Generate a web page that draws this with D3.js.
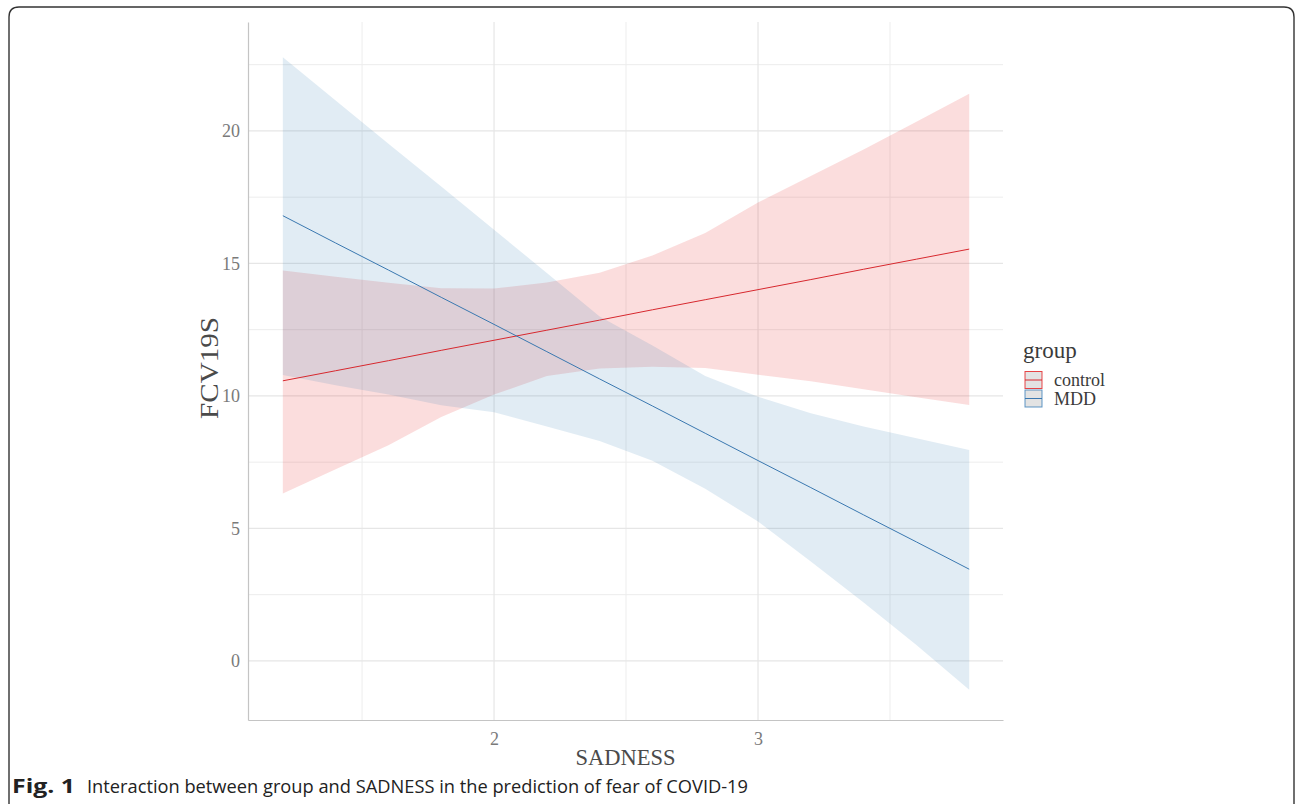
<!DOCTYPE html>
<html>
<head>
<meta charset="utf-8">
<script src="https://cdn.jsdelivr.net/npm/d3@7"></script>
<style>
  html, body { margin: 0; padding: 0; background: #fff; }
  svg { display: block; }
</style>
</head>
<body>
<svg id="chart" width="1295" height="804"></svg>
<script>
// ---- data ----
const sadness = [1.2, 1.4, 1.6, 1.8, 2.0, 2.2, 2.4, 2.6, 2.8, 3.0, 3.2, 3.4, 3.6, 3.8];

const controlFit   = [10.57, 10.95, 11.33, 11.72, 12.10, 12.48, 12.86, 13.25, 13.63, 14.01, 14.39, 14.78, 15.16, 15.54];
const controlUpper = [14.73, 14.50, 14.27, 14.06, 14.05, 14.28, 14.65, 15.30, 16.15, 17.30, 18.30, 19.30, 20.35, 21.40];
const controlLower = [6.32, 7.23, 8.14, 9.20, 10.05, 10.75, 11.03, 11.10, 11.05, 10.80, 10.55, 10.25, 9.95, 9.66];

const mddFit   = [16.80, 15.77, 14.75, 13.72, 12.70, 11.67, 10.64, 9.62, 8.59, 7.56, 6.54, 5.51, 4.49, 3.46];
const mddUpper = [22.78, 21.15, 19.52, 17.90, 16.27, 14.64, 13.00, 11.90, 10.75, 9.97, 9.35, 8.85, 8.40, 7.96];
const mddLower = [10.79, 10.40, 10.05, 9.65, 9.38, 8.85, 8.30, 7.55, 6.50, 5.26, 3.75, 2.20, 0.60, -1.09];

const groups = ["control", "MDD"];
const xTicks = [2, 3];
const xMinor = [1.5, 2.5, 3.5];
const yTicks = [0, 5, 10, 15, 20];
const yMinor = [2.5, 7.5, 12.5, 17.5, 22.5];

const xTitle = "SADNESS";
const yTitle = "FCV19S";
const legendTitle = "group";
const captionBold = "Fig. 1";
const captionText = "Interaction between group and SADNESS in the prediction of fear of COVID-19";

// ---- layout ----
const svg = d3.select("#chart");
const panel = { left: 248, right: 1003, top: 22, bottom: 720 };

const x = d3.scaleLinear().domain([1.068, 3.928]).range([panel.left, panel.right]);
const y = d3.scaleLinear().domain([-2.23, 24.11]).range([panel.bottom, panel.top]);

const colors = { control: "#E41A1C", MDD: "#377EB8" };
const lineColors = { control: "#D7282E", MDD: "#3A78B0" };
const series = [
  { name: "control", fit: controlFit, lo: controlLower, hi: controlUpper },
  { name: "MDD", fit: mddFit, lo: mddLower, hi: mddUpper }
];

const serif = "'Liberation Serif', 'DejaVu Serif', serif";
const capFont = "'Liberation Sans Narrow', 'Open Sans', 'Noto Sans', sans-serif";

// figure border (rounded, open at bottom)
svg.append("path")
  .attr("d", "M9,810 L9,17 Q9,7 19,7 L1284,7 Q1294,7 1294,17 L1294,810")
  .attr("fill", "none").attr("stroke", "#333").attr("stroke-width", 1.4);

// grid
const grid = svg.append("g");
grid.selectAll(".vmin").data(xMinor).join("line")
  .attr("x1", d => x(d)).attr("x2", d => x(d))
  .attr("y1", panel.top).attr("y2", panel.bottom)
  .attr("stroke", "#ededed").attr("stroke-width", 1);
grid.selectAll(".hmin").data(yMinor).join("line")
  .attr("y1", d => y(d)).attr("y2", d => y(d))
  .attr("x1", panel.left).attr("x2", panel.right)
  .attr("stroke", "#ededed").attr("stroke-width", 1);
grid.selectAll(".vmaj").data(xTicks).join("line")
  .attr("x1", d => x(d)).attr("x2", d => x(d))
  .attr("y1", panel.top).attr("y2", panel.bottom)
  .attr("stroke", "#e6e6e6").attr("stroke-width", 1.2);
grid.selectAll(".hmaj").data(yTicks).join("line")
  .attr("y1", d => y(d)).attr("y2", d => y(d))
  .attr("x1", panel.left).attr("x2", panel.right)
  .attr("stroke", "#e6e6e6").attr("stroke-width", 1.2);

// ribbons
const area = d3.area()
  .x(d => x(d.x)).y0(d => y(d.lo)).y1(d => y(d.hi));
const line = d3.line().x(d => x(d.x)).y(d => y(d.y));

series.forEach(s => {
  const pts = sadness.map((v, i) => ({ x: v, lo: s.lo[i], hi: s.hi[i] }));
  svg.append("path").datum(pts)
    .attr("d", area)
    .attr("fill", colors[s.name]).attr("fill-opacity", 0.15);
});
series.forEach(s => {
  const pts = sadness.map((v, i) => ({ x: v, y: s.fit[i] }));
  svg.append("path").datum(pts)
    .attr("d", line)
    .attr("fill", "none").attr("stroke", lineColors[s.name]).attr("stroke-width", 1);
});

// axes
const xAxis = svg.append("g").attr("transform", `translate(0,${panel.bottom})`)
  .call(d3.axisBottom(x).tickValues(xTicks).tickSize(0).tickPadding(12).tickFormat(d3.format("d")));
const yAxis = svg.append("g").attr("transform", `translate(${panel.left},0)`)
  .call(d3.axisLeft(y).tickValues(yTicks).tickSize(0).tickPadding(8).tickFormat(d3.format("d")));
[xAxis, yAxis].forEach(a => {
  a.select(".domain").attr("stroke", "#c4c4c4").attr("stroke-width", 1.2);
  a.selectAll("text").attr("font-family", serif).attr("font-size", 18).attr("fill", "#7a7a7a");
});

// axis titles
svg.append("text").attr("x", (panel.left + panel.right) / 2).attr("y", 765)
  .attr("text-anchor", "middle").attr("font-family", serif).attr("font-size", 22.5)
  .attr("fill", "#4a4a4a").text(xTitle);
svg.append("text")
  .attr("transform", `translate(218,368) rotate(-90)`)
  .attr("text-anchor", "middle").attr("font-family", serif).attr("font-size", 26)
  .attr("textLength", 102).attr("lengthAdjust", "spacingAndGlyphs")
  .attr("fill", "#4a4a4a").text(yTitle);

// legend
const lg = svg.append("g").attr("transform", "translate(1024,0)");
lg.append("text").attr("x", -1).attr("y", 358).attr("font-family", serif)
  .attr("font-size", 23).attr("fill", "#3a3a3a").text(legendTitle);
groups.forEach((g, i) => {
  const top = 371.5 + i * 18.5;
  lg.append("rect").attr("x", 1).attr("y", top).attr("width", 17).attr("height", 17)
    .attr("fill", "#e3e3e3").attr("stroke", colors[g]).attr("stroke-opacity", 0.8).attr("stroke-width", 1);
  lg.append("line").attr("x1", 1).attr("x2", 18).attr("y1", top + 8.5).attr("y2", top + 8.5)
    .attr("stroke", lineColors[g]).attr("stroke-width", 1);
  lg.append("text").attr("x", 30).attr("y", top + 14.5).attr("font-family", serif)
    .attr("font-size", 18).attr("fill", "#3a3a3a").text(g);
});

// caption
svg.append("text").attr("x", 12).attr("y", 793)
  .attr("font-family", capFont).attr("font-weight", "bold")
  .attr("font-size", 19).attr("fill", "#222")
  .attr("textLength", 63).attr("lengthAdjust", "spacingAndGlyphs").text(captionBold);
svg.append("text").attr("x", 87).attr("y", 793)
  .attr("font-family", capFont)
  .attr("font-size", 19).attr("fill", "#222")
  .attr("textLength", 661).attr("lengthAdjust", "spacingAndGlyphs").text(captionText);
</script>
</body>
</html>
